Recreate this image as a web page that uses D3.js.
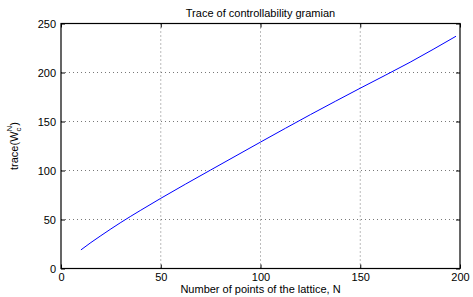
<!DOCTYPE html>
<html><head><meta charset="utf-8">
<script src="https://cdn.jsdelivr.net/npm/d3@7"></script>
<style>body{margin:0;background:#fff}svg{display:block}text{font-family:"Liberation Sans",Arial,sans-serif}</style>
</head><body>
<script>
const nPoints = [10, 15, 20, 30, 40, 50, 75, 100, 125, 150, 175, 198];
const traceValues = [19, 26.5, 33.5, 47, 59.5, 71.6, 100.5, 129, 157, 184, 210.5, 237];
const xTicks = [0, 50, 100, 150, 200];
const yTicks = [0, 50, 100, 150, 200, 250];
const titleText = "Trace of controllability gramian";
const xLabel = "Number of points of the lattice, N";

const W = 473, H = 297;
const m = {l: 61, r: 13, t: 23.5, b: 28.5};
const svg = d3.select("body").append("svg").attr("width", W).attr("height", H);
const x = d3.scaleLinear().domain([0, 200]).range([m.l, W - m.r]);
const y = d3.scaleLinear().domain([0, 250]).range([H - m.b, m.t]);

// grid
const g = svg.append("g");
g.selectAll(".gx").data(xTicks.slice(1, -1)).enter().append("line")
  .attr("x1", d => x(d)).attr("x2", d => x(d)).attr("y1", y(0)).attr("y2", y(250))
  .attr("stroke", "#555").attr("stroke-width", 0.8).attr("stroke-dasharray", "1,3");
g.selectAll(".gy").data(yTicks.slice(1, -1)).enter().append("line")
  .attr("y1", d => y(d)).attr("y2", d => y(d)).attr("x1", x(0)).attr("x2", x(200))
  .attr("stroke", "#555").attr("stroke-width", 0.8).attr("stroke-dasharray", "1,3");

// axes
const fs = 11;
const xa = svg.append("g").attr("transform", `translate(0,${y(0)})`)
  .call(d3.axisBottom(x).tickValues(xTicks).tickSize(-4).tickPadding(6));
const xt = svg.append("g").attr("transform", `translate(0,${y(250)})`)
  .call(d3.axisTop(x).tickValues(xTicks).tickSize(-4).tickFormat(""));
const ya = svg.append("g").attr("transform", `translate(${x(0)},0)`)
  .call(d3.axisLeft(y).tickValues(yTicks).tickSize(-4).tickPadding(5));
const yr = svg.append("g").attr("transform", `translate(${x(200)},0)`)
  .call(d3.axisRight(y).tickValues(yTicks).tickSize(-4).tickFormat(""));
[xa, xt, ya, yr].forEach(a => {
  a.select(".domain").remove();
  a.selectAll("line").attr("stroke", "#000");
  a.selectAll("text").attr("font-size", fs).attr("fill", "#000")
   .style("font-family", '"Liberation Sans",Arial,sans-serif');
});
xa.selectAll("text").attr("dy", "0.6em");

// box
svg.append("rect").attr("x", x(0)).attr("y", y(250)).attr("width", x(200) - x(0)).attr("height", y(0) - y(250))
  .attr("fill", "none").attr("stroke", "#000").attr("stroke-width", 1.2);

// line
const data = nPoints.map((n, i) => [n, traceValues[i]]);
svg.append("path").datum(data)
  .attr("d", d3.line().x(d => x(d[0])).y(d => y(d[1])).curve(d3.curveMonotoneX))
  .attr("fill", "none").attr("stroke", "#0000ff").attr("stroke-width", 1);

// title
svg.append("text").attr("x", (x(0) + x(200)) / 2).attr("y", 17).attr("text-anchor", "middle")
  .attr("font-size", 11).text(titleText);
// x label
svg.append("text").attr("x", (x(0) + x(200)) / 2).attr("y", 293).attr("text-anchor", "middle")
  .attr("font-size", 11).text(xLabel);
// y label
const yl = svg.append("text").attr("transform", `translate(18,${(y(0) + y(250)) / 2}) rotate(-90)`)
  .attr("text-anchor", "middle").attr("font-size", 11);
yl.append("tspan").text("trace(W");
yl.append("tspan").attr("font-size", 8).attr("dy", 3).text("c");
yl.append("tspan").attr("font-size", 8).attr("dy", -9).attr("dx", -4).text("N");
yl.append("tspan").attr("dy", 6).text(")");
</script>
</body></html>
